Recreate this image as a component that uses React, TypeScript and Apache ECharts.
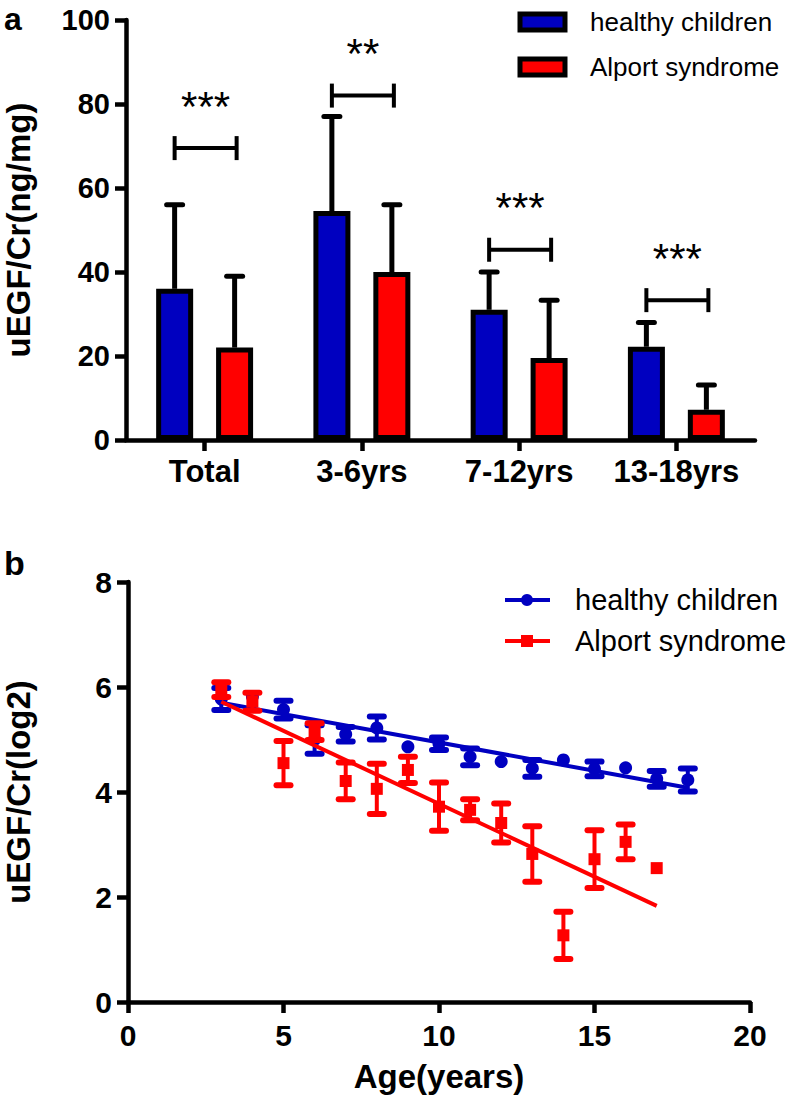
import React, { useEffect, useRef } from "react";
import * as echarts from "echarts";

// ---------- Panel a data ----------
const categories = ["Total", "3-6yrs", "7-12yrs", "13-18yrs"];
const healthyBarMean = [36, 54.5, 31, 22.2];
const healthyBarUpper = [56, 77, 40, 28];
const alportBarMean = [22, 40, 19.5, 7.2];
const alportBarUpper = [39, 56, 33.3, 13.1];
const bracketLevels = [69.5, 82, 45.3, 33.3];
const significance = ["***", "**", "***", "***"];
const yTicksA = { min: 0, max: 100, interval: 20 };

// ---------- Panel b data ----------
const healthyAge = [3, 4, 5, 6, 7, 8, 9, 10, 11, 12, 13, 14, 15, 16, 17, 18];
const healthyMean = [5.77, 5.82, 5.57, 5.0, 5.1, 5.22, 4.86, 4.92, 4.67, 4.58, 4.45, 4.61, 4.44, 4.46, 4.25, 4.23];
const healthyErr = [0.21, 0, 0.17, 0.27, 0.14, 0.22, 0, 0.12, 0.16, 0, 0.16, 0, 0.14, 0, 0.15, 0.22];
const alportAge = [3, 4, 5, 6, 7, 8, 9, 10, 11, 12, 13, 14, 15, 16, 17];
const alportMean = [5.95, 5.72, 4.55, 5.15, 4.21, 4.06, 4.42, 3.72, 3.66, 3.41, 2.82, 1.27, 2.72, 3.05, 2.55];
const alportErr = [0.14, 0.17, 0.42, 0.16, 0.35, 0.48, 0.25, 0.46, 0.2, 0.37, 0.53, 0.45, 0.55, 0.33, 0];
const healthyFit = [[3, 5.7], [18, 4.08]];
const alportFit = [[3, 5.72], [17, 1.83]];

const BLUE = "#0000C0";
const RED = "#FF0000";
const FONT = "Liberation Sans, Arial, Helvetica, sans-serif";

export default function App() {
  const ref = useRef<HTMLDivElement>(null);
  useEffect(() => {
    if (!ref.current) return;
    const chart = echarts.init(ref.current, undefined, { renderer: "svg" });

    const barErr = (offset: number) => (params: any, api: any) => {
      const idx = api.value(0);
      const p0 = api.coord([idx, api.value(1)]);
      const p1 = api.coord([idx, api.value(2)]);
      const x = p0[0] + offset;
      return {
        type: "group",
        children: [
          { type: "line", shape: { x1: x, y1: p0[1], x2: x, y2: p1[1] }, style: { stroke: "#000", lineWidth: 5 } },
          { type: "line", shape: { x1: x - 8, y1: p1[1], x2: x + 8, y2: p1[1] }, style: { stroke: "#000", lineWidth: 5, lineCap: "round" } },
        ],
      };
    };

    const bracket = (params: any, api: any) => {
      const idx = api.value(0);
      const p = api.coord([idx, api.value(1)]);
      const xl = p[0] - 30;
      const xr = p[0] + 32;
      const y = p[1];
      return {
        type: "group",
        children: [
          { type: "line", shape: { x1: xl, y1: y, x2: xr, y2: y }, style: { stroke: "#000", lineWidth: 4 } },
          { type: "line", shape: { x1: xl, y1: y - 12, x2: xl, y2: y + 12 }, style: { stroke: "#000", lineWidth: 4 } },
          { type: "line", shape: { x1: xr, y1: y - 12, x2: xr, y2: y + 12 }, style: { stroke: "#000", lineWidth: 4 } },
          {
            type: "text",
            x: p[0] + 1,
            y: y - 42,
            style: { text: significance[params.dataIndex], fontSize: 42, fontFamily: FONT, fill: "#000", align: "center", verticalAlign: "middle" },
          },
        ],
      };
    };

    const ptErr = (color: string) => (params: any, api: any) => {
      const x = api.value(0);
      const lo = api.coord([x, api.value(1)]);
      const hi = api.coord([x, api.value(2)]);
      if (Math.abs(lo[1] - hi[1]) < 0.5) return { type: "group", children: [] };
      const cx = lo[0];
      return {
        type: "group",
        children: [
          { type: "line", shape: { x1: cx, y1: lo[1], x2: cx, y2: hi[1] }, style: { stroke: color, lineWidth: 4 } },
          { type: "line", shape: { x1: cx - 7, y1: lo[1], x2: cx + 7, y2: lo[1] }, style: { stroke: color, lineWidth: 6, lineCap: "round" } },
          { type: "line", shape: { x1: cx - 7, y1: hi[1], x2: cx + 7, y2: hi[1] }, style: { stroke: color, lineWidth: 6, lineCap: "round" } },
        ],
      };
    };

    const axisLine = { show: true, lineStyle: { color: "#000", width: 4.5 } };
    const axisTick = { show: true, length: 11, lineStyle: { color: "#000", width: 4.5 } };

    const option: any = {
      animation: false,
      backgroundColor: "#fff",
      textStyle: { fontFamily: FONT },
      grid: [
        { left: 126, top: 20, width: 629, height: 420, outerBoundsMode: "none", containLabel: false },
        { left: 128, top: 582, width: 622, height: 420, outerBoundsMode: "none", containLabel: false },
      ],
      xAxis: [
        {
          type: "category",
          gridIndex: 0,
          data: categories,
          axisLine,
          axisTick: { ...axisTick, alignWithLabel: true },
          axisLabel: { color: "#000", fontSize: 31, fontWeight: "bold", fontFamily: FONT, margin: 16, interval: 0 },
          splitLine: { show: false },
        },
        {
          type: "value",
          gridIndex: 1,
          min: 0,
          max: 20,
          interval: 5,
          axisLine,
          axisTick,
          axisLabel: { color: "#000", fontSize: 30, fontWeight: "bold", fontFamily: FONT, margin: 18 },
          splitLine: { show: false },
          name: "Age(years)",
          nameLocation: "middle",
          nameGap: 58,
          nameTextStyle: { color: "#000", fontSize: 33, fontWeight: "bold", fontFamily: FONT },
        },
      ],
      yAxis: [
        {
          type: "value",
          gridIndex: 0,
          min: yTicksA.min,
          max: yTicksA.max,
          interval: yTicksA.interval,
          axisLine,
          axisTick,
          axisLabel: { color: "#000", fontSize: 29, fontWeight: "bold", fontFamily: FONT, margin: 16 },
          splitLine: { show: false },
          name: "uEGF/Cr(ng/mg)",
          nameLocation: "middle",
          nameGap: 91,
          nameTextStyle: { color: "#000", fontSize: 33, lineHeight: 33, fontWeight: "bold", fontFamily: FONT },
        },
        {
          type: "value",
          gridIndex: 1,
          min: 0,
          max: 8,
          interval: 2,
          axisLine,
          axisTick,
          axisLabel: { color: "#000", fontSize: 30, fontWeight: "bold", fontFamily: FONT, margin: 16 },
          splitLine: { show: false },
          name: "uEGF/Cr(log2)",
          nameLocation: "middle",
          nameGap: 93,
          nameTextStyle: { color: "#000", fontSize: 33, lineHeight: 33, fontWeight: "bold", fontFamily: FONT },
        },
      ],
      series: [
        {
          type: "custom",
          xAxisIndex: 0,
          yAxisIndex: 0,
          z: 1,
          renderItem: barErr(-30),
          data: healthyBarMean.map((m, i) => [i, m, healthyBarUpper[i]]),
        },
        {
          type: "custom",
          xAxisIndex: 0,
          yAxisIndex: 0,
          z: 1,
          renderItem: barErr(30),
          data: alportBarMean.map((m, i) => [i, m, alportBarUpper[i]]),
        },
        {
          name: "healthy children",
          type: "bar",
          xAxisIndex: 0,
          yAxisIndex: 0,
          z: 2,
          barWidth: 37,
          barGap: "62%",
          itemStyle: { color: BLUE, borderColor: "#000", borderWidth: 5 },
          data: healthyBarMean,
        },
        {
          name: "Alport syndrome",
          type: "bar",
          xAxisIndex: 0,
          yAxisIndex: 0,
          z: 2,
          barWidth: 37,
          barGap: "62%",
          itemStyle: { color: RED, borderColor: "#000", borderWidth: 5 },
          data: alportBarMean,
        },
        {
          type: "custom",
          xAxisIndex: 0,
          yAxisIndex: 0,
          z: 3,
          renderItem: bracket,
          data: bracketLevels.map((v, i) => [i, v]),
        },
        // Panel b
        {
          type: "line",
          xAxisIndex: 1,
          yAxisIndex: 1,
          data: healthyFit,
          showSymbol: false,
          lineStyle: { color: BLUE, width: 4 },
          z: 2,
        },
        {
          type: "line",
          xAxisIndex: 1,
          yAxisIndex: 1,
          data: alportFit,
          showSymbol: false,
          lineStyle: { color: RED, width: 4 },
          z: 4,
        },
        {
          type: "custom",
          xAxisIndex: 1,
          yAxisIndex: 1,
          z: 2,
          renderItem: ptErr(BLUE),
          data: healthyAge.map((a, i) => [a, healthyMean[i] - healthyErr[i], healthyMean[i] + healthyErr[i]]),
        },
        {
          type: "scatter",
          name: "healthy children",
          xAxisIndex: 1,
          yAxisIndex: 1,
          z: 3,
          symbol: "circle",
          symbolSize: 13,
          itemStyle: { color: BLUE, opacity: 1 },
          data: healthyAge.map((a, i) => [a, healthyMean[i]]),
        },
        {
          type: "custom",
          xAxisIndex: 1,
          yAxisIndex: 1,
          z: 4,
          renderItem: ptErr(RED),
          data: alportAge.map((a, i) => [a, alportMean[i] - alportErr[i], alportMean[i] + alportErr[i]]),
        },
        {
          type: "scatter",
          name: "Alport syndrome",
          xAxisIndex: 1,
          yAxisIndex: 1,
          z: 5,
          symbol: "rect",
          symbolSize: 12,
          itemStyle: { color: RED, opacity: 1 },
          data: alportAge.map((a, i) => [a, alportMean[i]]),
        },
      ],
      graphic: [
        { type: "text", left: 4, top: 3, style: { text: "a", fontSize: 32, fontWeight: "bold", fontFamily: FONT, fill: "#000" } },
        { type: "text", left: 4, top: 546, style: { text: "b", fontSize: 34, fontWeight: "bold", fontFamily: FONT, fill: "#000" } },
        // legend a
        { type: "rect", shape: { x: 520, y: 14, width: 45, height: 16 }, style: { fill: BLUE, stroke: "#000", lineWidth: 5 } },
        { type: "rect", shape: { x: 520, y: 59, width: 45, height: 16 }, style: { fill: RED, stroke: "#000", lineWidth: 5 } },
        { type: "text", x: 590, y: 22, style: { text: "healthy children", fontSize: 26, fontFamily: FONT, fill: "#000", verticalAlign: "middle" } },
        { type: "text", x: 590, y: 67, style: { text: "Alport syndrome", fontSize: 26, fontFamily: FONT, fill: "#000", verticalAlign: "middle" } },
        // legend b
        { type: "line", shape: { x1: 505, y1: 600, x2: 550, y2: 600 }, style: { stroke: BLUE, lineWidth: 4 } },
        { type: "circle", shape: { cx: 527, cy: 600, r: 6 }, style: { fill: BLUE } },
        { type: "line", shape: { x1: 505, y1: 641, x2: 550, y2: 641 }, style: { stroke: RED, lineWidth: 4 } },
        { type: "rect", shape: { x: 521, y: 635, width: 12, height: 12 }, style: { fill: RED } },
        { type: "text", x: 575, y: 600, style: { text: "healthy children", fontSize: 29, fontFamily: FONT, fill: "#000", verticalAlign: "middle" } },
        { type: "text", x: 575, y: 641, style: { text: "Alport syndrome", fontSize: 29, fontFamily: FONT, fill: "#000", verticalAlign: "middle" } },
      ],
    };
    chart.setOption(option);
    return () => chart.dispose();
  }, []);
  return <div ref={ref} style={{ position: "absolute", left: 0, top: 0, width: 788, height: 1100 }} />;
}
